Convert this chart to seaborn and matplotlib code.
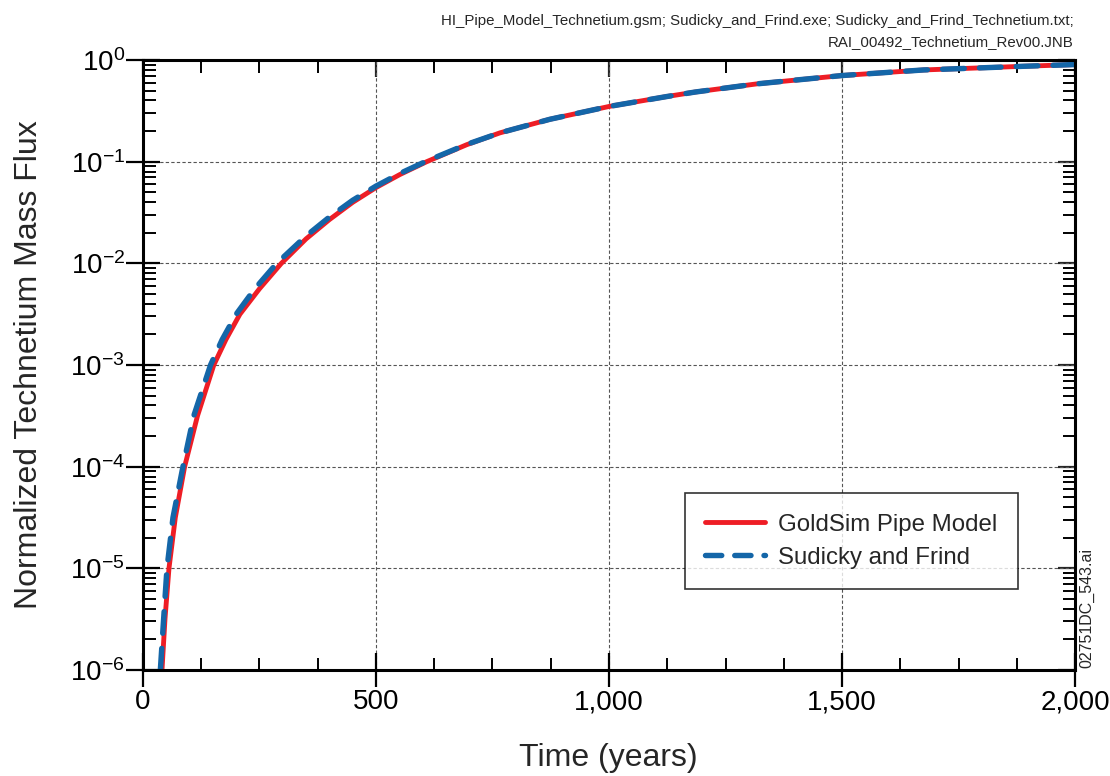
import numpy as np
import pandas as pd
import matplotlib
matplotlib.use("Agg")
import matplotlib.pyplot as plt
import matplotlib.ticker as mticker
import seaborn as sns

# values
t_goldsim = [40.8, 47.2, 55.8, 69.4, 89.4, 117, 152, 178, 208, 250, 297, 350, 400, 450, 500,
             551, 609, 695, 766, 873, 1000, 1124, 1185, 1317, 1500, 1675, 1889, 2000]
c_goldsim = [1e-6, 3.16e-6, 1e-5, 3.16e-5, 1e-4, 3.16e-4, 1e-3, 1.78e-3, 3.16e-3, 5.62e-3,
             1e-2, 0.0174, 0.0269, 0.0398, 0.0556, 0.0746, 0.1, 0.147, 0.192, 0.261, 0.349,
             0.437, 0.484, 0.582, 0.703, 0.798, 0.867, 0.902]

t_sudicky = [37.3, 44.3, 51.5, 64.4, 85.8, 109, 145, 170, 200, 240, 287, 350, 400, 450, 500,
             551, 609, 695, 766, 873, 1000, 1124, 1185, 1317, 1500, 1675, 1889, 2000]
c_sudicky = [1e-6, 3.16e-6, 1e-5, 3.16e-5, 1e-4, 3.16e-4, 1e-3, 1.78e-3, 3.16e-3, 5.62e-3,
             1e-2, 0.0186, 0.0285, 0.0417, 0.0575, 0.0764, 0.1016, 0.148, 0.192, 0.261,
             0.349, 0.437, 0.484, 0.582, 0.703, 0.798, 0.867, 0.902]

series_names = ["GoldSim Pipe Model", "Sudicky and Frind"]
series_colors = ["#EE1D25", "#1466A8"]

df = pd.concat([
    pd.DataFrame({"Time": t_goldsim, "Flux": c_goldsim, "Model": series_names[0]}),
    pd.DataFrame({"Time": t_sudicky, "Flux": c_sudicky, "Model": series_names[1]}),
])

sns.set_style("white")
plt.rcParams["font.family"] = ["Liberation Sans", "DejaVu Sans"]
plt.rcParams["mathtext.default"] = "regular"

fig = plt.figure(figsize=(11.1, 7.76), dpi=100)
ax = fig.add_axes([0.1288, 0.1366, 0.9685 - 0.1288, 0.9227 - 0.1366])

sns.lineplot(data=df, x="Time", y="Flux", hue="Model", style="Model",
             palette=series_colors, dashes={series_names[0]: "", series_names[1]: (4.0, 2.8)},
             ax=ax, estimator=None, sort=False, legend=False)
lines = ax.get_lines()
lines[0].set_linewidth(3.5)
lines[1].set_linewidth(3.9)
for ln in lines:
    ln.set_solid_capstyle("round")
    ln.set_dash_capstyle("round")
    ln.set_solid_joinstyle("round")

ax.set_yscale("log")
ax.set_xlim(0, 2000)
ax.set_ylim(1e-6, 1)
ax.xaxis.set_major_locator(mticker.MultipleLocator(500))
ax.xaxis.set_minor_locator(mticker.MultipleLocator(125))
ax.xaxis.set_major_formatter(mticker.FuncFormatter(lambda v, p: f"{int(v):,}"))
ax.yaxis.set_major_locator(mticker.LogLocator(base=10, numticks=10))
ax.yaxis.set_minor_locator(mticker.LogLocator(base=10, subs=np.arange(2, 10), numticks=10))
ax.yaxis.set_minor_formatter(mticker.NullFormatter())

ax.grid(True, which="major", linestyle=(0, (3, 2)), color="#555555", linewidth=0.8)
for s in ax.spines.values():
    s.set_linewidth(2.2)
    s.set_color("black")

ax.tick_params(which="both", left=True, bottom=True)
ax.tick_params(which="major", direction="inout", length=24, width=1.6, labelsize=20,
               colors="black")
ax.tick_params(which="minor", direction="in", length=9, width=1.4, top=True, right=True,
               colors="black")
ax.tick_params(axis="x", which="major", pad=2)
ax.tick_params(axis="y", which="major", pad=1)

# top and right major ticks point inward only
sec_x = ax.secondary_xaxis("top")
sec_x.xaxis.set_major_locator(mticker.MultipleLocator(500))
sec_x.tick_params(direction="in", length=12, width=1.6, labeltop=False)
sec_y = ax.secondary_yaxis("right")
sec_y.yaxis.set_major_locator(mticker.LogLocator(base=10, numticks=10))
sec_y.yaxis.set_minor_locator(mticker.NullLocator())
sec_y.tick_params(direction="in", length=12, width=1.6, labelright=False)
for sa in (sec_x, sec_y):
    for s in sa.spines.values():
        s.set_visible(False)

ax.set_xlabel("")
ax.set_ylabel("Normalized Technetium Mass Flux", fontsize=23)
ax.yaxis.set_label_coords(-0.106, 0.5)
fig.text(0.548, 0.0425, "Time (years)", fontsize=23, ha="center", va="top")

handles = [plt.Line2D([], [], color=series_colors[0], lw=3.5, solid_capstyle="round"),
           plt.Line2D([], [], color=series_colors[1], lw=3.9, linestyle=(0, (3.0, 2.4)),
                      dash_capstyle="round")]
leg = ax.legend(handles, series_names, loc="lower right", bbox_to_anchor=(0.9388, 0.1328),
                fontsize=17.3, frameon=True, fancybox=False, handlelength=2.5,
                borderpad=0.85, labelspacing=0.45, handletextpad=0.55, borderaxespad=0)
leg.get_frame().set_edgecolor("black")
leg.get_frame().set_linewidth(1.2)

fig.text(0.967, 0.937,
         "HI_Pipe_Model_Technetium.gsm; Sudicky_and_Frind.exe; Sudicky_and_Frind_Technetium.txt;\n"
         "RAI_00492_Technetium_Rev00.JNB",
         fontsize=10.8, ha="right", va="bottom", linespacing=1.6)
fig.text(0.9793, 0.139, "02751DC_543.ai", fontsize=11.5, rotation=90, ha="center", va="bottom")

fig.savefig("out.png", dpi=100)
